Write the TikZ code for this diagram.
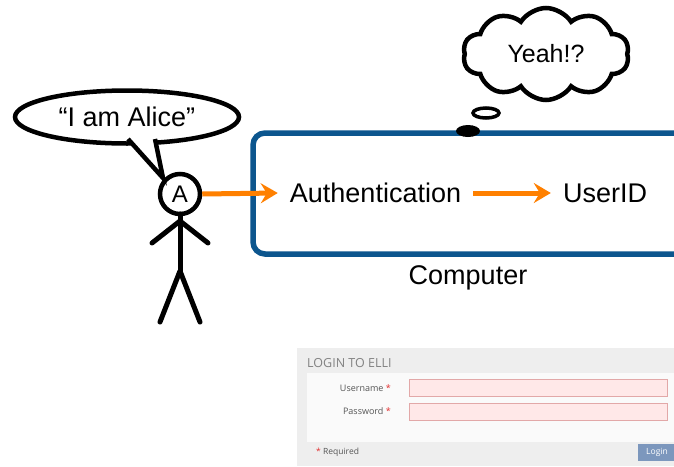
\documentclass[tikz,border=0pt]{standalone}
\usepackage{fontspec}
\setmainfont{Liberation Sans}
\newfontfamily\formfont{Open Sans}
\usetikzlibrary{shapes.geometric,shapes.symbols,arrows.meta}

\definecolor{boxblue}{RGB}{12,86,142}
\definecolor{flow}{RGB}{255,128,0}
\definecolor{formbg}{RGB}{238,238,238}
\definecolor{formpanel}{RGB}{250,250,250}
\definecolor{fieldfill}{RGB}{255,232,232}
\definecolor{fieldline}{RGB}{226,168,168}
\definecolor{formgray}{RGB}{130,130,130}
\definecolor{labelgray}{RGB}{85,85,85}
\definecolor{starred}{RGB}{225,50,50}
\definecolor{btnblue}{RGB}{124,151,189}

\tikzset{
  bigtext/.style={font=\fontsize{27}{32}\selectfont, inner sep=0pt},
  flowarrow/.style={draw=flow, line width=5pt, -{Stealth[length=17pt,width=20pt,inset=6pt]}},
  stroke/.style={line width=5pt, line cap=round, line join=round},
  field/.style={draw=fieldline, fill=fieldfill, line width=0.8pt},
  formlabel/.style={font=\formfont\fontsize{9}{11}\selectfont, text=labelgray, inner sep=0pt, anchor=east},
}

\begin{document}
\begin{tikzpicture}[x=1pt,y=-1pt]
\clip (0,0) rectangle (674,466);
\fill[white] (0,0) rectangle (674,466);

% computer frame
\draw[boxblue, line width=5.5pt, rounded corners=12pt] (253,133) rectangle (720,254);
\node[bigtext] (computer) at (468,278) {Computer};
\node[bigtext, inner xsep=12pt] (auth) at (375.5,193) {Authentication};
\node[bigtext, inner xsep=12pt] (userid) at (605,193) {UserID};

% stick figure
\node[circle, draw, line width=4.5pt, minimum size=40pt, inner sep=0pt, fill=white,
      font=\fontsize{24}{28}\selectfont] (head) at (180,194) {A};
\coordinate (neck) at (180,214);
\coordinate (shoulder) at (180,221);
\coordinate (hip) at (180,271);
\coordinate (lhand) at (152,243);
\coordinate (rhand) at (208,243);
\coordinate (lfoot) at (160,322);
\coordinate (rfoot) at (200,322);
\draw[stroke] (neck) -- (hip);
\draw[stroke] (lhand) -- (shoulder) -- (rhand);
\draw[stroke] (lfoot) -- (hip) -- (rfoot);

% flow arrows
\draw[flowarrow] (head.east) -- (auth.west);
\draw[flowarrow] (auth.east) -- (userid.west);

% speech bubble
\node[ellipse, draw, line width=4.5pt, fill=white, minimum width=224pt, minimum height=53pt,
      bigtext] (alice) at (127,117) {``I am Alice''};
\coordinate (tailL) at (128,139);
\coordinate (tailR) at (155,139);
\coordinate (tailtip) at (163,178);
\fill[white] (tailL) -- (tailtip) -- (tailR) -- cycle;
\draw[line width=4.5pt, line join=miter] (tailL) -- (tailtip) -- (tailR);

% thought cloud
\node[cloud, draw, line width=4.5pt, fill=white, cloud puffs=10, cloud puff arc=115,
      cloud ignores aspect, minimum width=166pt, minimum height=92pt,
      font=\fontsize{25}{30}\selectfont] (think) at (546,54) {Yeah!?};
\node[ellipse, draw, line width=3.5pt, fill=white, minimum width=26pt, minimum height=10pt,
      inner sep=0pt] (bubbleA) at (486,113) {};
\node[ellipse, fill=black, minimum width=24pt, minimum height=12pt, inner sep=0pt]
      (bubbleB) at (468,131) {};

% login form
\fill[formbg] (297,348) rectangle (674,466);
\fill[formpanel] (307,373) rectangle (674,442);
\node[font=\formfont\fontsize{12.5}{15}\selectfont, text=formgray, anchor=west, inner sep=0pt]
      (formtitle) at (307,363) {LOGIN TO ELLI};
\node[formlabel] (userlabel) at (391,388) {Username {\color{starred}*}};
\node[formlabel] (passlabel) at (391,411) {Password {\color{starred}*}};
\draw[field] (409,379) rectangle (667,396);
\draw[field] (409,403) rectangle (667,420);
\node[font=\formfont\fontsize{8.5}{10}\selectfont, text=labelgray, anchor=west, inner sep=0pt]
      (required) at (316,452) {{\color{starred}*} Required};
\fill[btnblue] (638,444) rectangle (676,461);
\node[font=\formfont\fontsize{8.5}{10}\selectfont, text=white, inner sep=0pt]
      (loginbtn) at (657,452.5) {Login};
\end{tikzpicture}
\end{document}
